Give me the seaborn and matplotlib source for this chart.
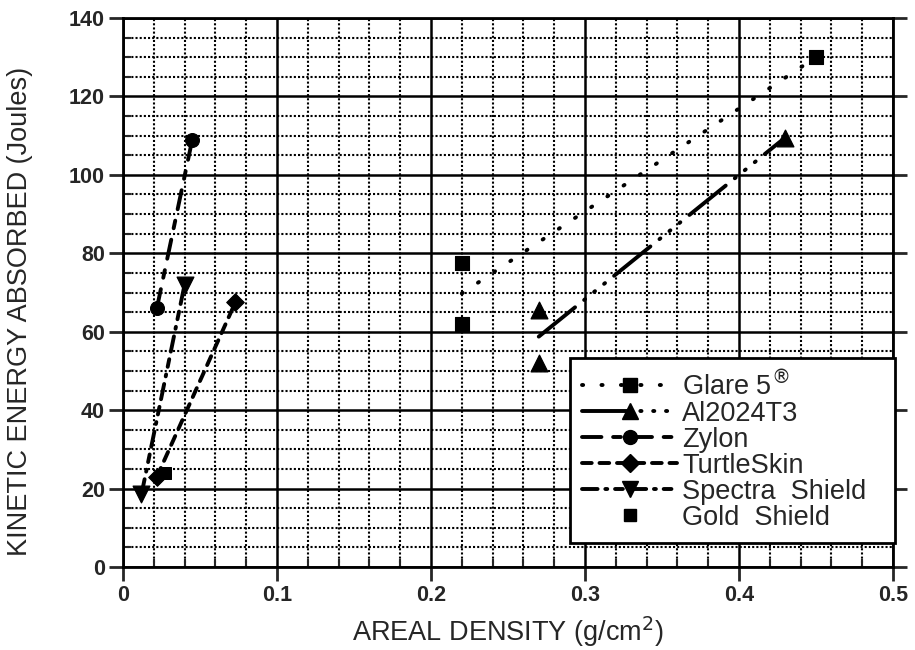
import matplotlib
matplotlib.use("Agg")
import matplotlib.pyplot as plt
from matplotlib.lines import Line2D
from matplotlib.ticker import MultipleLocator
import seaborn as sns

sns.set_style("ticks")
plt.rcParams['font.family'] = ['Liberation Sans', 'DejaVu Sans']

# Data (areal density g/cm^2, energy in Joules)
legend_labels = [r'Glare 5$^{\circledR}$', 'Al2024T3', 'Zylon', 'TurtleSkin',
                 'Spectra  Shield', 'Gold  Shield']

glare_x = [0.22, 0.22, 0.45]
glare_y = [62, 77.5, 130]
al_x = [0.27, 0.27, 0.43]
al_y = [52, 65.5, 109.5]
zylon_x = [0.022, 0.045]
zylon_y = [66, 109]
turtle_x = [0.022, 0.073]
turtle_y = [23, 67.5]
spectra_x = [0.012, 0.040]
spectra_y = [18.5, 72]
gold_x = [0.027]
gold_y = [24]

# x, y, marker, marker size, dash pattern (None = markers only)
series = [
    (glare_x, glare_y, 's', 10, (0.3, 4.7)),
    (al_x, al_y, '^', 12, (12, 3, 0.3, 3, 0.3, 3, 0.3, 3)),
    (zylon_x, zylon_y, 'o', 10, (5, 3, 2, 3)),
    (turtle_x, turtle_y, 'D', 9, (2.5, 2)),
    (spectra_x, spectra_y, 'v', 12, (4, 2, 0.5, 2, 2, 2)),
    (gold_x, gold_y, 's', 9, None),
]

fig = plt.figure(figsize=(9.15, 6.5), dpi=100)
ax = fig.add_axes([0.1344, 0.1277, 0.8415, 0.8446])

handles = []
for (xs, ys, mk, ms, dash), lab in zip(series, legend_labels):
    if dash is not None:
        # trend line through each material's points
        sns.regplot(x=xs, y=ys, ax=ax, scatter=False, ci=None, truncate=True,
                    color='k', line_kws=dict(lw=2.8, dashes=dash,
                                             dash_capstyle='round', zorder=4))
    sns.scatterplot(x=xs, y=ys, ax=ax, marker=mk, s=ms ** 2, color='k',
                    edgecolor='k', zorder=5, legend=False)
    if dash is None:
        h = Line2D([], [], ls='none', marker=mk, ms=ms * 0.9, color='k')
    else:
        h = Line2D([], [], color='k', lw=2.8, dashes=dash, marker=mk,
                   ms=ms, dash_capstyle='round')
    handles.append(h)

ax.set_xlim(0, 0.5)
ax.set_ylim(0, 140)
ax.xaxis.set_major_locator(MultipleLocator(0.1))
ax.xaxis.set_minor_locator(MultipleLocator(0.02))
ax.yaxis.set_major_locator(MultipleLocator(20))
ax.yaxis.set_minor_locator(MultipleLocator(5))
ax.set_xticks([0, 0.1, 0.2, 0.3, 0.4, 0.5])
ax.set_xticklabels(['0', '0.1', '0.2', '0.3', '0.4', '0.5'])

ax.grid(which='major', color='k', lw=1.8)
ax.grid(which='minor', color='k', lw=1.5, ls=(0, (1, 1)))
ax.set_axisbelow(True)

for sp in ax.spines.values():
    sp.set_linewidth(2)
    sp.set_color('k')

ax.tick_params(which='major', direction='out', length=10, width=2,
               labelsize=15.5, pad=3, right=True, left=True, bottom=True)
ax.tick_params(which='minor', direction='in', length=6, width=1.5,
               left=True, bottom=True)
for t in ax.get_xticklabels() + ax.get_yticklabels():
    t.set_fontweight('bold')

ax.set_xlabel('AREAL DENSITY (g/cm$^2$)', fontsize=19.5, labelpad=6)
ax.set_ylabel('KINETIC ENERGY ABSORBED (Joules)', fontsize=19.5)
ax.yaxis.set_label_coords(-0.117, 0.465)

leg = ax.legend(handles, legend_labels, loc='lower left',
                bbox_to_anchor=(0.5805, 0.044, 0.422, 0.34), mode='expand',
                borderaxespad=0, fontsize=19.5, frameon=True, fancybox=False,
                framealpha=1, edgecolor='k', labelspacing=0.0,
                handlelength=3.5, handletextpad=0.2, borderpad=0.45)
leg.get_frame().set_linewidth(2)
leg.set_zorder(10)

fig.savefig('out.png', dpi=100)
